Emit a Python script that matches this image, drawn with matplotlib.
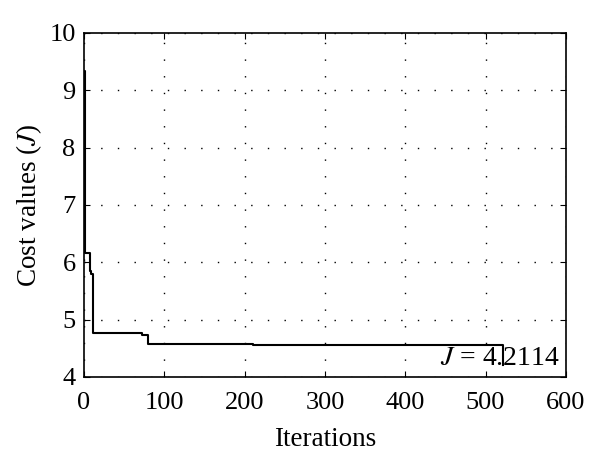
import matplotlib
matplotlib.use("Agg")
import matplotlib.pyplot as plt

# change points of the best cost curve (step-wise)
iterations = [0, 1, 8, 9, 11, 72, 80, 211, 522]
cost = [9.34, 6.17, 5.85, 5.80, 4.77, 4.74, 4.58, 4.555, 4.2114]
final_cost = 4.2114

x_ticks = [0, 100, 200, 300, 400, 500, 600]
y_ticks = [4, 5, 6, 7, 8, 9, 10]

plt.rcParams['font.family'] = ['Liberation Serif', 'DejaVu Serif']
plt.rcParams['mathtext.fontset'] = 'stix'

fig = plt.figure(figsize=(6, 4.76), dpi=100)
ax = fig.add_axes([0.14, 0.208, 0.803, 0.7227])

ax.plot(iterations, cost, color='black', linewidth=1.5, drawstyle='steps-post')

ax.set_xlim(0, 600)
ax.set_ylim(4, 10)
ax.set_xticks(x_ticks)
ax.set_yticks(y_ticks)
ax.tick_params(direction='in', top=True, right=True, labelsize=19, length=4)
ax.tick_params(axis='x', pad=11)
ax.tick_params(axis='y', pad=6)
ax.grid(True, linestyle=(0, (1, 11)), color='black', linewidth=1.0)
for s in ax.spines.values():
    s.set_linewidth(1.2)

ax.set_xlabel('Iterations', fontsize=19.5, labelpad=9)
ax.set_ylabel('Cost values ($J$)', fontsize=19.5, labelpad=4)

ax.text(592, 4.33, '$J$ = %.4f' % final_cost, fontsize=20, ha='right', va='center')

fig.savefig('out.png', dpi=100)
